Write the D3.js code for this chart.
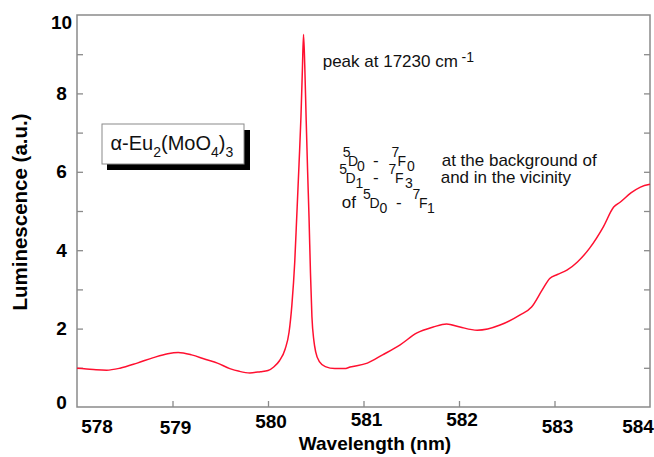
<!DOCTYPE html>
<html>
<head>
<meta charset="utf-8">
<script src="https://cdn.jsdelivr.net/npm/d3@7"></script>
<style>
  body { margin: 0; background: #fff; }
  svg { display: block; font-family: "Liberation Sans", Arial, sans-serif; }
</style>
</head>
<body>
<div id="chart"></div>
<script>
// spectrum (wavelength in nm, luminescence in a.u.)
var wavelength = [578.00, 578.10, 578.20, 578.31, 578.45, 578.63, 578.80, 578.95, 579.06, 579.20,
                  579.35, 579.47, 579.60, 579.70, 579.81, 579.92, 580.00, 580.06, 580.12, 580.18,
                  580.22, 580.25, 580.28, 580.30, 580.325, 580.345, 580.36, 580.372, 580.385, 580.40,
                  580.415, 580.43, 580.445, 580.46, 580.48, 580.50, 580.54, 580.60, 580.70, 580.80,
                  580.86, 581.04, 581.20, 581.38, 581.56, 581.73, 581.87, 582.01, 582.19, 582.30,
                  582.43, 582.64, 582.76, 582.87, 582.95, 583.03, 583.13, 583.24, 583.37, 583.51,
                  583.62, 583.69, 583.80, 583.90, 584.00];
var luminescence = [0.99, 0.97, 0.95, 0.94, 0.99, 1.12, 1.26, 1.36, 1.39, 1.33,
                    1.21, 1.12, 0.98, 0.91, 0.87, 0.90, 0.93, 1.02, 1.18, 1.48,
                    1.90, 2.60, 3.70, 4.80, 6.20, 7.40, 8.60, 9.50, 8.70, 7.30,
                    6.00, 4.80, 3.40, 2.30, 1.70, 1.40, 1.15, 1.03, 0.98, 0.98,
                    1.02, 1.12, 1.33, 1.58, 1.89, 2.04, 2.12, 2.04, 1.96, 1.99,
                    2.09, 2.35, 2.55, 2.98, 3.28, 3.38, 3.49, 3.70, 4.06, 4.59,
                    5.10, 5.23, 5.46, 5.61, 5.68];

var xTickLabels = [578, 579, 580, 581, 582, 583, 584];
var yTickLabels = [0, 2, 4, 6, 8, 10];
var minorTicks = [1, 2, 3, 4, 5, 6, 7, 8, 9];

var WIDTH = 654, HEIGHT = 457;
var LEFT = 77, RIGHT = 650, TOP = 15, BOTTOM = 407;
var FRAME = "#8a8a8a";
var X_LABEL_NUDGE = [7, 8, 2, 0, 0, 7, 7];   // the scanned labels sit unevenly

var svg = d3.select("#chart").append("svg")
            .attr("width", WIDTH)
            .attr("height", HEIGHT);

var x = d3.scaleLinear().domain([578, 584]).range([LEFT, RIGHT]);
var y = d3.scaleLinear().domain([0, 10]).range([BOTTOM, TOP]);

// frame
svg.append("rect")
   .attr("x", LEFT).attr("y", TOP)
   .attr("width", RIGHT - LEFT).attr("height", BOTTOM - TOP)
   .attr("fill", "none")
   .attr("stroke", FRAME)
   .attr("stroke-width", 1.5);

// inward ticks
function styleTicks(g) {
    g.select(".domain").remove();
    g.selectAll(".tick line").attr("stroke", FRAME).attr("stroke-width", 1.3);
    g.selectAll(".tick text").remove();
}
svg.append("g").attr("transform", "translate(0," + BOTTOM + ")")
   .call(d3.axisBottom(x).tickValues(d3.range(579, 584)).tickSize(-6))
   .call(styleTicks);
svg.append("g").attr("transform", "translate(" + LEFT + ",0)")
   .call(d3.axisLeft(y).tickValues(minorTicks).tickSize(-6))
   .call(styleTicks);
svg.append("g").attr("transform", "translate(" + RIGHT + ",0)")
   .call(d3.axisRight(y).tickValues(minorTicks).tickSize(-6))
   .call(styleTicks);

// tick labels
svg.append("g").selectAll("text")
   .data(xTickLabels)
   .enter().append("text")
   .attr("x", function(d) { return Math.max(97, Math.min(638, x(d) + 3)); })
   .attr("y", function(d, i) { return 426 + X_LABEL_NUDGE[i]; })
   .attr("text-anchor", "middle")
   .attr("font-size", 19)
   .attr("font-weight", "bold")
   .text(function(d) { return d; });

svg.append("g").selectAll("text")
   .data(yTickLabels)
   .enter().append("text")
   .attr("x", 61.5)
   .attr("y", function(d) { return Math.max(22.5, Math.min(402, y(d))) + 6.5; })
   .attr("text-anchor", "middle")
   .attr("font-size", 19)
   .attr("font-weight", "bold")
   .text(function(d) { return d; });

// axis titles
svg.append("text")
   .attr("x", 375).attr("y", 450)
   .attr("text-anchor", "middle")
   .attr("font-size", 19)
   .attr("font-weight", "bold")
   .text("Wavelength (nm)");

svg.append("text")
   .attr("transform", "translate(27,212) rotate(-90)")
   .attr("text-anchor", "middle")
   .attr("font-size", 20.5)
   .attr("font-weight", "bold")
   .text("Luminescence (a.u.)");

// spectrum
var line = d3.line()
             .x(function(d) { return x(d[0]); })
             .y(function(d) { return y(d[1]); })
             .curve(d3.curveMonotoneX);

svg.append("path")
   .datum(d3.zip(wavelength, luminescence))
   .attr("d", line)
   .attr("fill", "none")
   .attr("stroke", "#ff1030")
   .attr("stroke-width", 1.5)
   .attr("stroke-linejoin", "round");

// sample label box with drop shadow
svg.append("rect")
   .attr("x", 107).attr("y", 130).attr("width", 143).attr("height", 40)
   .attr("fill", "#000");
svg.append("rect")
   .attr("x", 102).attr("y", 124).attr("width", 142).attr("height", 40)
   .attr("fill", "#fff")
   .attr("stroke", "#8a8a8a")
   .attr("stroke-width", 1);

var formula = svg.append("text")
                 .attr("x", 110.5).attr("y", 150)
                 .attr("font-size", 20)
                 .attr("fill", "#111");
formula.append("tspan").text("\u03b1-Eu");
formula.append("tspan").attr("font-size", 14).attr("dy", 6.5).text("2");
formula.append("tspan").attr("dy", -6.5).text("(MoO");
formula.append("tspan").attr("font-size", 14).attr("dy", 6.5).text("4");
formula.append("tspan").attr("dy", -6.5).text(")");
formula.append("tspan").attr("font-size", 14).attr("dy", 6.5).text("3");

// annotations: each piece is [text, x, shift, size]
function writeLine(base, pieces) {
    var g = svg.append("g");
    pieces.forEach(function(p) {
        g.append("text")
         .attr("x", p[1])
         .attr("y", base + p[2])
         .attr("font-size", p[3])
         .attr("fill", "#111")
         .text(p[0]);
    });
}

writeLine(66.7, [["peak at 17230 cm", 322.7, 0, 17], ["-1", 461.5, -5, 14]]);

writeLine(166, [["5", 342.7, -9.3, 14], ["D", 348, 0, 14], ["0", 357, 4.7, 14],
                ["-", 373, 0, 17], ["7", 391.5, -9.3, 14], ["F", 397.5, 0, 14],
                ["0", 407, 4.7, 14], ["at the background of", 441.7, 0, 17]]);

writeLine(183, [["5", 339.3, -9.3, 14], ["D", 345.5, 0, 14], ["1", 355.5, 4.7, 14],
                ["-", 373, 0, 17], ["7", 388.5, -9.3, 14], ["F", 395, 0, 14],
                ["3", 405, 4.7, 14], ["and in the vicinity", 440.7, 0, 17]]);

writeLine(208, [["of", 341.7, 0, 17], ["5", 363, -9.3, 14], ["D", 369.5, 0, 14],
                ["0", 379.5, 4.7, 14], ["-", 396, 0, 17], ["7", 412.5, -9.3, 14],
                ["F", 419, 0, 14], ["1", 427, 4.7, 14]]);
</script>
</body>
</html>
